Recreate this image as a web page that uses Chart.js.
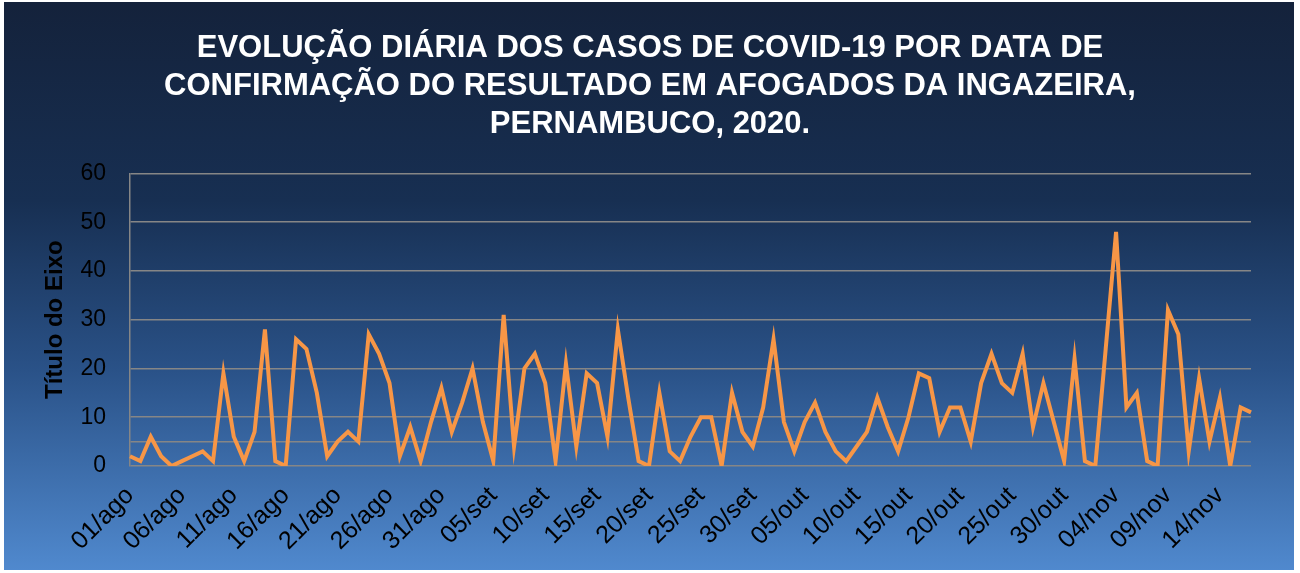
<!DOCTYPE html>
<html lang="pt">
<head>
<meta charset="utf-8">
<title>Evolução diária dos casos de COVID-19 - Afogados da Ingazeira</title>
<script src="https://cdn.jsdelivr.net/npm/chart.js@4.4.1/dist/chart.umd.min.js"></script>
<style>
  html, body { margin: 0; padding: 0; background: #fff; }
  #bg {
    position: absolute; left: 4px; top: 2px; width: 1290px; height: 568px;
    background: linear-gradient(to bottom, #14223b 0%, #172f52 35%, #2a5288 65%, #5089ce 100%);
  }
  #wrap { position: absolute; left: 0; top: 0; width: 1300px; height: 573px; }
</style>
</head>
<body>
<div id="bg"></div>
<div id="wrap"><canvas id="covidChart"></canvas></div>
<script>
// Datas de confirmação (01/ago a 17/nov)
const dias = [
  '01/ago','02/ago','03/ago','04/ago','05/ago','06/ago','07/ago','08/ago','09/ago','10/ago',
  '11/ago','12/ago','13/ago','14/ago','15/ago','16/ago','17/ago','18/ago','19/ago','20/ago',
  '21/ago','22/ago','23/ago','24/ago','25/ago','26/ago','27/ago','28/ago','29/ago','30/ago',
  '31/ago','01/set','02/set','03/set','04/set','05/set','06/set','07/set','08/set','09/set',
  '10/set','11/set','12/set','13/set','14/set','15/set','16/set','17/set','18/set','19/set',
  '20/set','21/set','22/set','23/set','24/set','25/set','26/set','27/set','28/set','29/set',
  '30/set','01/out','02/out','03/out','04/out','05/out','06/out','07/out','08/out','09/out',
  '10/out','11/out','12/out','13/out','14/out','15/out','16/out','17/out','18/out','19/out',
  '20/out','21/out','22/out','23/out','24/out','25/out','26/out','27/out','28/out','29/out',
  '30/out','31/out','01/nov','02/nov','03/nov','04/nov','05/nov','06/nov','07/nov','08/nov',
  '09/nov','10/nov','11/nov','12/nov','13/nov','14/nov','15/nov','16/nov','17/nov'
];

// Casos confirmados por dia
const casos = [
  2, 1, 6, 2, 0, 1, 2, 3, 1, 19,
  6, 1, 7, 28, 1, 0, 26, 24, 15, 2,
  5, 7, 5, 27, 23, 17, 2, 8, 1, 9,
  16, 7, 13, 20, 9, 1, 31, 4, 20, 23,
  17, 1, 21, 4, 19, 17, 6, 28, 14, 1,
  0, 15, 3, 1, 6, 10, 10, 0, 15, 7,
  4, 12, 26, 9, 3, 9, 13, 7, 3, 1,
  4, 7, 14, 8, 3, 10, 19, 18, 7, 12,
  12, 5, 17, 23, 17, 15, 23, 8, 17, 9,
  1, 22, 1, 0, 24, 48, 12, 15, 1, 0,
  32, 27, 3, 18, 5, 14, 0, 12, 11
];

// Rótulos exibidos no eixo X (a cada 5 dias)
const rotulosX = [
  '01/ago','06/ago','11/ago','16/ago','21/ago','26/ago','31/ago','05/set','10/set','15/set','20/set',
  '25/set','30/set','05/out','10/out','15/out','20/out','25/out','30/out','04/nov','09/nov','14/nov'
];

// Linhas de grade do eixo Y (a de 5 aparece sem rótulo)
const gradeY = [0, 5, 10, 20, 30, 40, 50, 60];
const rotulosY = [0, 10, 20, 30, 40, 50, 60];

const titulo = [
  'EVOLUÇÃO DIÁRIA DOS CASOS DE COVID-19 POR DATA DE',
  'CONFIRMAÇÃO DO RESULTADO EM AFOGADOS DA INGAZEIRA,',
  'PERNAMBUCO, 2020.'
];

const FONT = "'Liberation Sans', Arial, sans-serif";

const ctx = document.getElementById('covidChart').getContext('2d');
new Chart(ctx, {
  type: 'line',
  data: {
    labels: dias,
    datasets: [{
      label: 'Casos',
      data: casos,
      borderColor: '#f79646',
      borderWidth: 4,
      pointRadius: 0,
      fill: false,
      tension: 0,
      borderJoinStyle: 'miter',
    }],
  },
  options: {
    responsive: true,
    maintainAspectRatio: false,
    animation: false,
    layout: { padding: { left: 49, right: 49, top: 0, bottom: 0 } },
    plugins: {
      legend: { display: false },
      tooltip: { enabled: false },
      title: {
        display: true,
        text: titulo,
        color: '#ffffff',
        font: { family: FONT, size: 31, weight: 'bold', lineHeight: 1.23 },
        padding: { top: 29, bottom: 30 },
      },
    },
    scales: {
      x: {
        grid: { display: false, drawTicks: false },
        border: { display: false },
        ticks: {
          autoSkip: false,
          minRotation: 45,
          maxRotation: 45,
          padding: 15,
          color: '#000000',
          font: { family: FONT, size: 25 },
          callback: function (v, i) {
            const lbl = dias[i];
            return rotulosX.includes(lbl) ? lbl : '';
          },
        },
        afterFit: function (scale) {
          scale.height = 107;
          scale.paddingLeft = 0;
          scale.paddingRight = 0;
        },
      },
      y: {
        min: 0,
        max: 60,
        afterBuildTicks: function (scale) {
          scale.ticks = gradeY.map(v => ({ value: v }));
        },
        grid: { color: '#868686', lineWidth: 1.5, drawTicks: false },
        border: { display: true, color: '#868686', width: 1.5 },
        ticks: {
          padding: 24,
          color: '#000000',
          font: { family: FONT, size: 23 },
          callback: function (v) {
            return rotulosY.includes(v) ? String(v) : '';
          },
        },
        title: {
          display: true,
          text: 'Título do Eixo',
          color: '#000000',
          font: { family: FONT, size: 24, weight: 'bold' },
          padding: { top: -8, bottom: 0 },
        },
        afterFit: function (scale) {
          scale.width = 81;
        },
      },
    },
  },
});
</script>
</body>
</html>
